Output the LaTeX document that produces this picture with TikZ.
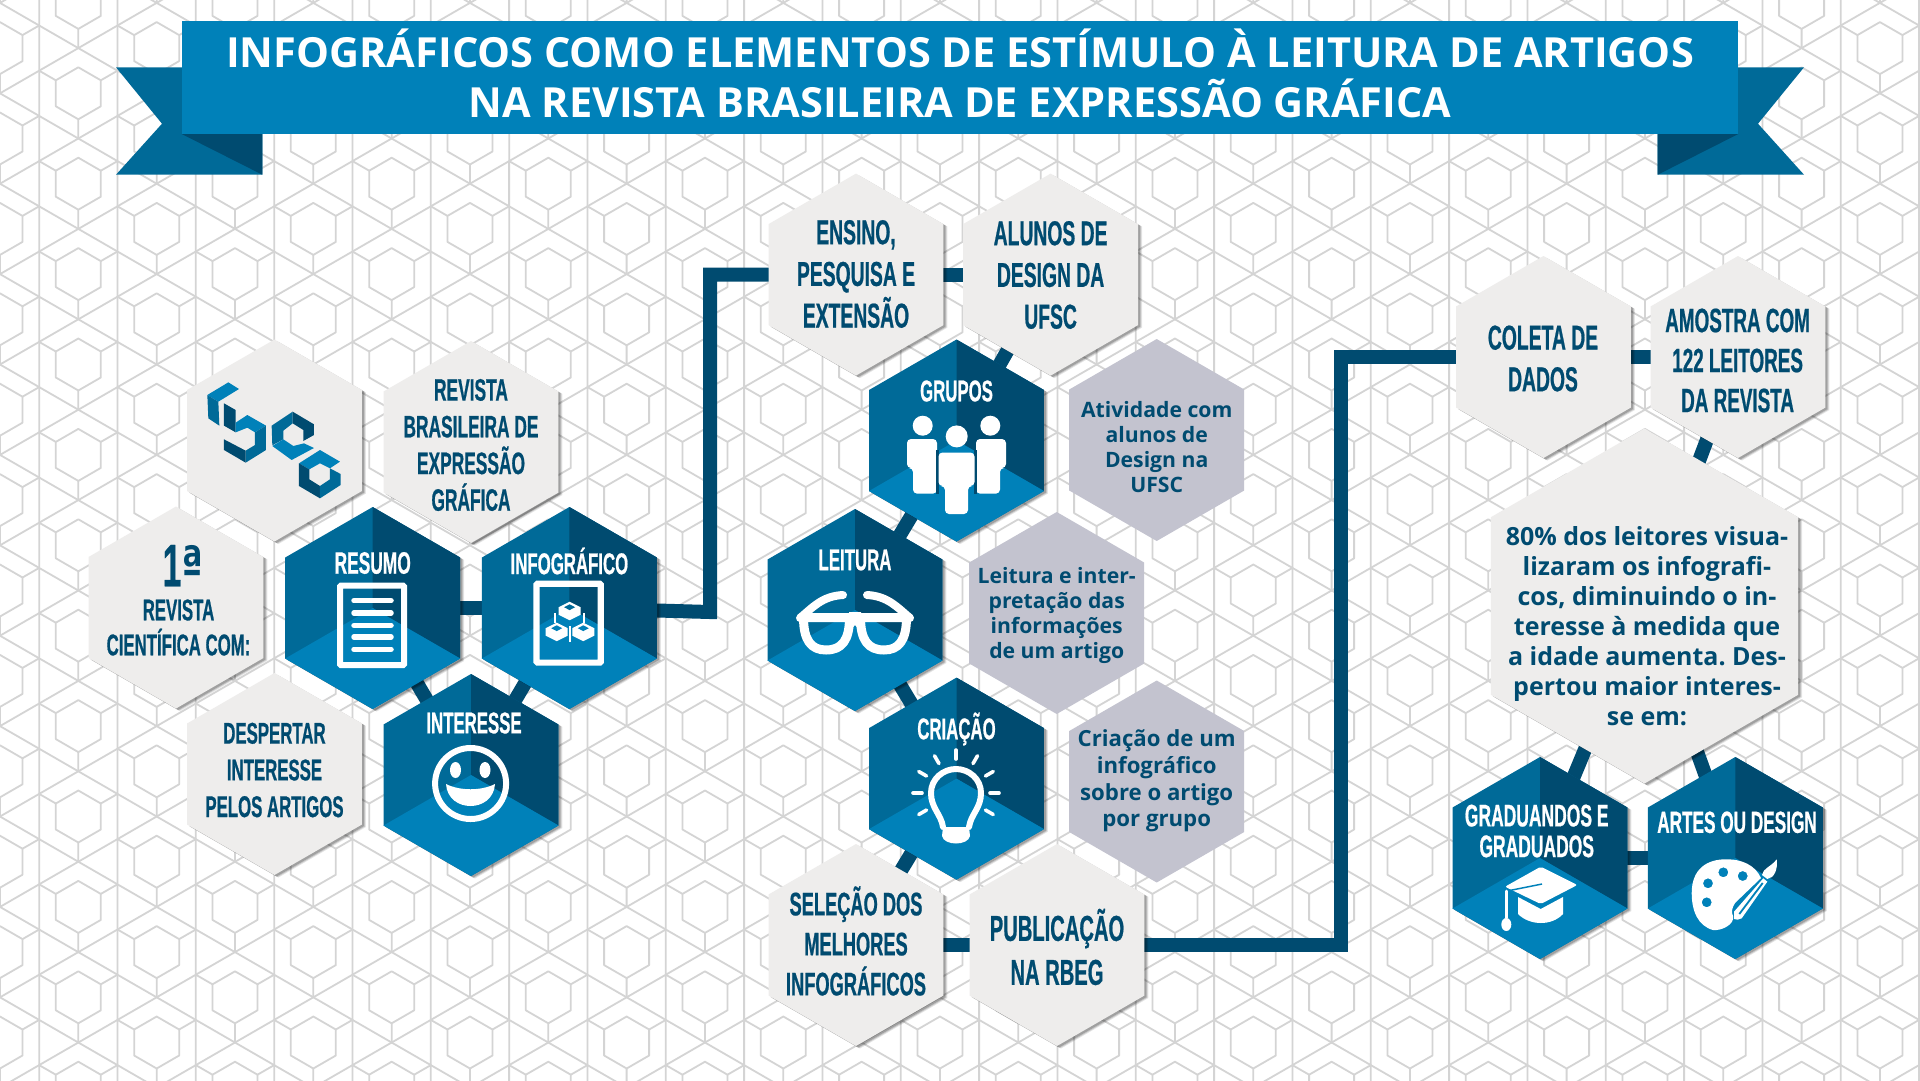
\documentclass[tikz,border=0pt]{standalone}
\usepackage{fontspec}
\setmainfont{Open Sans}
\newfontfamily\bebas[FakeStretch=0.56,FakeBold=0.6]{Liberation Sans}
\newfontfamily\ordfont[FakeStretch=0.72]{DejaVu Sans}
\usetikzlibrary{shapes.geometric,shadows,calc}
\definecolor{cbanner}{HTML}{0081B9}
\definecolor{cmid}{HTML}{006A98}
\definecolor{cdark}{HTML}{004B70}
\definecolor{clight}{HTML}{EEEDEC}
\definecolor{cnote}{HTML}{C3C3CF}
\definecolor{cpat}{HTML}{D4D4D4}
\newcommand\bbf[2]{\bebas\bfseries\fontsize{#1}{#2}\selectfont}
\newcommand\nsf[2]{\frenchspacing\bfseries\fontsize{#1}{#2}\selectfont}
\pgfdeclarelayer{bg}
\pgfsetlayers{bg,main}
\tikzset{
  softshadow/.style={
    general shadow={shadow xshift=4pt,shadow yshift=-2.5pt,fill=black,opacity=.10},
    general shadow={shadow xshift=3pt,shadow yshift=-2pt,fill=black,opacity=.14},
    general shadow={shadow xshift=2pt,shadow yshift=-1.5pt,fill=black,opacity=.18}},
  hexbase/.style={regular polygon,regular polygon sides=6,shape border rotate=30,
    minimum size=202pt,inner sep=0pt,outer sep=0pt,draw=none},
  lighthex/.style={hexbase,softshadow,fill=clight},
  bighex/.style={lighthex,minimum size=355pt},
  notehex/.style={hexbase,fill=cnote},
  darkhex/.style={hexbase,softshadow,fill=cmid,path picture={
    \fill[cdark] (path picture bounding box.center) -- ++(0,-110) -- ++(100,0) -- ++(0,167.7) -- cycle;
    \fill[cbanner] (path picture bounding box.center) -- ++(100,57.7) -- ++(0,80) -- ++(-200,0) -- ++(0,-80) -- cycle;}},
  conn/.style={draw=cdark,line width=14pt,line join=miter},
  patline/.style={draw=cpat,line width=1.8pt,line join=round},
  headtext/.style={inner sep=0pt,align=center,text=cdark,font=\bbf{30}{36.7}},
  whitehead/.style={inner sep=0pt,align=center,text=white,font=\bbf{30}{31}},
  notetext/.style={inner sep=0pt,align=center,text=cdark,font=\nsf{21.2}{25}},
  iconline/.style={draw=white,line cap=round,line join=round},
}
\begin{document}
\begin{tikzpicture}[x=1pt,y=-1pt]
\useasboundingbox (0,0) rectangle (1920,1080);
% ---- ribbon
\fill[cmid] (116,67.3) -- (262.3,67.3) -- (262.3,174.7) -- (116,174.7) -- (162,123.7) -- cycle;
\fill[cdark] (181.7,134) -- (262.3,134) -- (262.3,174.7) -- cycle;
\fill[cmid] (1804,67.3) -- (1657.7,67.3) -- (1657.7,174.7) -- (1804,174.7) -- (1758,123.7) -- cycle;
\fill[cdark] (1738.3,134) -- (1657.7,134) -- (1657.7,174.7) -- cycle;
\node[fill=cbanner,minimum width=1556.6pt,minimum height=113.3pt,inner sep=0pt] (banner) at (960,77.3) {};
\node[inner sep=0pt,align=center,text=white,font=\nsf{41.5}{50.2}] (title) at (960,73)
  {INFOGRÁFICOS COMO ELEMENTOS DE ESTÍMULO À LEITURA DE ARTIGOS\\NA REVISTA BRASILEIRA DE EXPRESSÃO GRÁFICA};
% ---- left group
\node[lighthex] (logo) at (274.5,440.5) {};
\node[lighthex] (revista) at (471,442) {};
\node[lighthex] (primeira) at (176,607.5) {};
\node[darkhex] (resumo) at (372.7,608) {};
\node[darkhex] (infografico) at (569.4,608) {};
\node[lighthex] (despertar) at (274.5,774) {};
\node[darkhex] (interesse) at (471,775) {};
\node[headtext,font=\bbf{31}{36.7}] (trevista) at (471,445) {REVISTA\\BRASILEIRA DE\\EXPRESSÃO\\GRÁFICA};
\node[headtext,font=\bbf{60}{60}] (tum) at (183,565.6) {1{\ordfont\fontsize{54}{54}\selectfont\raisebox{1pt}{ª}}};
\node[headtext,font=\bbf{30}{35}] (tprim) at (178.5,627.5) {REVISTA\\CIENTÍFICA COM:};
\node[headtext] (tdesp) at (274.5,770) {DESPERTAR\\INTERESSE\\PELOS ARTIGOS};
\node[whitehead,font=\bbf{31}{31}] (tresumo) at (372.7,563) {RESUMO};
\node[whitehead] (tinfo) at (569.4,561) {INFOGRÁFICO};
\node[whitehead] (tint) at (474,723) {INTERESSE};
% logo
\begin{scope}[shift={(190,360)},x=0.3333pt,y=-0.3333pt]
\fill[cbanner] (52,105) -- (115,67) -- (147,87) -- (85,125) -- cycle;
\fill[cmid] (52,105) -- (85,125) -- (88,197) -- (55,175) -- cycle;
\fill[cdark] (102,130) -- (137,150) -- (137,217) -- (102,197) -- cycle;
\fill[cbanner] (137,188) -- (172,165) -- (228,197) -- (195,217) -- (172,203) -- (137,217) -- cycle;
\fill[cmid] (228,197) -- (228,270) -- (167,308) -- (167,272) -- (195,255) -- (195,217) -- cycle;
\fill[cdark] (102,238) -- (167,272) -- (167,308) -- (102,270) -- cycle;
\fill[cmid] (245,197) -- (308,155) -- (308,190) -- (280,212) -- (280,238) -- (247,256) -- cycle;
\fill[cdark] (308,155) -- (372,193) -- (372,225) -- (340,243) -- (340,210) -- (308,190) -- cycle;
\fill[cbanner] (247,258) -- (280,238) -- (310,258) -- (342,250) -- (372,264) -- (305,300) -- cycle;
\fill[cbanner] (327,310) -- (390,270) -- (450,305) -- (420,325) -- (390,310) -- (358,328) -- cycle;
\fill[cdark] (327,310) -- (358,328) -- (358,358) -- (390,378) -- (390,415) -- (327,378) -- cycle;
\fill[cmid] (390,378) -- (420,358) -- (420,325) -- (452,342) -- (452,375) -- (390,415) -- cycle;
\end{scope}
% resumo icon
\draw[draw=white,line width=6pt,rounded corners=1pt] (340,585.5) rectangle (404,665);
\foreach \yy in {600.7,613,625.4,637,649.3} \draw[iconline,line width=5.5pt] (354,\yy) -- (391,\yy);
% infografico icon
\draw[draw=white,line width=6.2pt,rounded corners=1pt] (536.5,583.8) rectangle (600.8,662.6);
\foreach \cx/\ct/\cc in {569.6/601.7/cmid,556.7/622.7/cbanner,583.3/622.7/cbanner}{
  \fill[white] (\cx,\ct) -- (\cx+11,\ct+5.5) -- (\cx+11,\ct+13) -- (\cx,\ct+18.5) -- (\cx-11,\ct+13) -- (\cx-11,\ct+5.5) -- cycle;
  \fill[\cc] (\cx,\ct+2.6) -- (\cx+5.5,\ct+5.5) -- (\cx,\ct+8.4) -- (\cx-5.5,\ct+5.5) -- cycle;
}
\draw[draw=white,line width=1.7pt] (555,613) -- (555,623) (584,613) -- (584,623) (570,626) -- (570,641.5);
% smiley
\draw[draw=white,line width=6pt] (470.6,783.5) circle[radius=35.5pt];
\fill[white] (455.5,770) ellipse[x radius=5.5pt,y radius=8pt];
\fill[white] (485,770) ellipse[x radius=5.5pt,y radius=8pt];
\fill[white] (446,784) .. controls (460,791) and (481,791) .. (495,784) .. controls (494,799) and (482,806) .. (470.5,806) .. controls (459,806) and (447,799) .. (446,784) -- cycle;
% ---- centre group
\node[lighthex] (ensino) at (856,274.6) {};
\node[lighthex] (alunos) at (1050.6,274.6) {};
\node[darkhex] (grupos) at (956.5,440.5) {};
\node[notehex] (natividade) at (1156.7,440) {};
\node[darkhex] (leitura) at (855,610) {};
\node[notehex] (nleitura) at (1056.7,613) {};
\node[darkhex] (criacao) at (956.5,778.6) {};
\node[notehex] (ncriacao) at (1156.7,781.5) {};
\node[lighthex] (selecao) at (856,945) {};
\node[lighthex] (publicacao) at (1057,945) {};
\node[headtext,font=\bbf{34.5}{41.7}] (tensino) at (856,274) {ENSINO,\\PESQUISA E\\EXTENSÃO};
\node[headtext,font=\bbf{34.5}{41.7}] (talunos) at (1050.6,275) {ALUNOS DE\\DESIGN DA\\UFSC};
\node[whitehead] (tgrupos) at (956.5,391) {GRUPOS};
\node[whitehead] (tleitura) at (855,560) {LEITURA};
\node[whitehead] (tcriacao) at (956.5,729) {CRIAÇÃO};
\node[notetext] (tnat) at (1156.7,447) {Atividade com\\alunos de\\Design na\\UFSC};
\node[notetext] (tnle) at (1056.7,615.5) {Leitura e inter-\\pretação das\\informações\\de um artigo};
\node[notetext,font=\nsf{22.2}{26.6}] (tncr) at (1156.7,781) {Criação de um\\infográfico\\sobre o artigo\\por grupo};
\node[headtext,font=\bbf{32.6}{40}] (tsel) at (856,941) {SELEÇÃO DOS\\MELHORES\\INFOGRÁFICOS};
\node[headtext,font=\bbf{36}{44}] (tpub) at (1057,947) {PUBLICAÇÃO\\NA RBEG};
% grupos icon
\fill[white] (922.7,425.7) circle[radius=10pt] (990.3,425.7) circle[radius=10pt] (956.7,436.4) circle[radius=11pt];
\fill[white,rounded corners=4pt] (907,439) -- (937,439) -- (937,493.6) -- (913,493.6) -- (913,468) -- (907,468) -- cycle;
\fill[white,rounded corners=4pt] (1006,439) -- (976,439) -- (976,493.6) -- (1000,493.6) -- (1000,468) -- (1006,468) -- cycle;
\fill[cdark] (936,450) rectangle (939,494);
\fill[cdark] (974,450) rectangle (977,494);
\fill[white,rounded corners=4pt] (938.5,452.5) -- (974.5,452.5) -- (974.5,486) -- (968,486) -- (968,514) -- (945,514) -- (945,486) -- (938.5,486) -- cycle;
% glasses icon
\begin{scope}[iconline]
\draw[line width=9pt] (803.5,617.5) -- (849.5,617.5) .. controls (849.5,640) and (842,650) .. (826,650) .. controls (811,650) and (803.5,640) .. (803.5,617.5) -- cycle;
\draw[line width=9pt] (906.5,617.5) -- (860.5,617.5) .. controls (860.5,640) and (868,650) .. (884,650) .. controls (899,650) and (906.5,640) .. (906.5,617.5) -- cycle;
\draw[line width=8pt] (801,617) -- (909,617);
\draw[line width=8pt] (800,618) .. controls (812,608) and (822,596) .. (843,595);
\draw[line width=8pt] (910,618) .. controls (898,608) and (888,596) .. (867,595);
\end{scope}
\fill[white] (849,612) -- (861,612) -- (861,632) -- (855,625) -- (849,632) -- cycle;
% bulb icon
\draw[iconline,line width=6pt] (943,827) .. controls (941,814) and (931,808) .. (931,793) .. controls (931,779) and (943,769) .. (956,769) .. controls (969,769) and (981,779) .. (981,793) .. controls (981,808) and (971,814) .. (969,827);
\fill[white] (943,827) -- (969,827) -- (970,836) .. controls (968,846) and (944,846) .. (942,836) -- cycle;
\foreach \a in {-90,-60,-120,-30,-150,0,180,30,150}
  \draw[iconline,line width=3.6pt] ([shift={(\a:34)}]956,793) -- ([shift={(\a:43)}]956,793);
% ---- right group
\node[lighthex] (coleta) at (1543.5,357) {};
\node[lighthex] (amostra) at (1738,357) {};
\node[bighex] (oitenta) at (1644.5,606) {};
\node[darkhex] (graduandos) at (1540,858) {};
\node[darkhex] (artes) at (1735.3,858) {};
\node[headtext,font=\bbf{34.5}{41.6}] (tcol) at (1543,358.5) {COLETA DE\\DADOS};
\node[headtext,font=\bbf{33.7}{40}] (tamo) at (1737.6,360.5) {AMOSTRA COM\\122 LEITORES\\DA REVISTA};
\node[notetext,font=\nsf{25}{30}] (toit) at (1647,626) {80\% dos leitores visua-\\lizaram os infografi-\\cos, diminuindo o in-\\teresse à medida que\\a idade aumenta. Des-\\pertou maior interes-\\se em:};
\node[whitehead,font=\bbf{31.2}{30.7}] (tgra) at (1536.7,831) {GRADUANDOS E\\GRADUADOS};
\node[whitehead,font=\bbf{30.7}{31}] (tart) at (1737,822.3) {ARTES OU DESIGN};
% cap icon
\fill[white] (1518,897) -- (1540.7,909) -- (1563,897) -- (1563,914) .. controls (1552,926) and (1530,926) .. (1518,914) -- cycle;
\fill[white,rounded corners=2pt] (1540.7,866.7) -- (1577.3,885) -- (1540.7,904) -- (1505,886.7) -- cycle;
\draw[draw=cbanner,line width=1.5pt] (1507,891) -- (1542,884);
\draw[iconline,line width=2.6pt] (1506.5,891) -- (1506.5,918);
\fill[white] (1506.3,924.5) ellipse[x radius=5pt,y radius=6.5pt];
% palette icon
\fill[white,even odd rule] (1691.7,893) .. controls (1691.7,868) and (1708,859.5) .. (1725,859.3) .. controls (1742,859) and (1755,865) .. (1761,878) -- (1735,903) .. controls (1732,908) and (1731,912) .. (1733,916) .. controls (1735,924) and (1722,931) .. (1713,930) .. controls (1698,926) and (1691.7,911) .. (1691.7,893) -- cycle
  (1723.3,872.3) circle[radius=5pt] (1742.7,876) circle[radius=5pt] (1708,883.3) circle[radius=5pt] (1706.7,902.3) circle[radius=5pt];
\fill[white] (1763.3,878.3) -- (1767.3,881.7) -- (1741.7,918.3) .. controls (1739,920) and (1736,920) .. (1734,919) -- (1734,911.7) -- cycle;
\draw[draw=cbanner,line width=1.8pt] (1762.7,883) -- (1739.3,914);
\fill[white] (1776.7,859.3) .. controls (1778,870) and (1774,878) .. (1767.3,879) -- (1762,875) .. controls (1763,868) and (1771,867) .. (1776.7,859.3) -- cycle;
% ---- pattern and connectors, under the hexagons
\begin{pgfonlayer}{bg}
\fill[white] (0,0) rectangle (1920,1080);
\begin{scope}
\clip (0,0) rectangle (1920,1080);
\foreach \col in {0,...,25}{
  \pgfmathsetmacro\px{78.33*\col}
  \pgfmathsetmacro\py{isodd(\col) ? 2.9 : 48.1}
  \foreach \row in {-1,...,12}{
    \pgfmathsetmacro\qy{\py+90.4*\row}
    \draw[patline] (\px,\qy-26) -- (\px+22.5,\qy-13) -- (\px+22.5,\qy+13) -- (\px,\qy+26) -- (\px-22.5,\qy+13) -- (\px-22.5,\qy-13) -- cycle;
    \draw[patline] (\px,\qy-45.2) -- (\px+39.17,\qy-22.6) -- (\px+39.17,\qy+22.6) -- (\px,\qy+45.2) -- (\px-39.17,\qy+22.6) -- (\px-39.17,\qy-22.6) -- cycle;
    \draw[patline] (\px,\qy+26) -- (\px,\qy+45.2) (\px+22.5,\qy-13) -- (\px+39.17,\qy-22.6) (\px-22.5,\qy-13) -- (\px-39.17,\qy-22.6);
  }
}
\end{scope}
\draw[conn] (resumo.center) -- (infografico.center);
\draw[conn] (resumo.center) -- (interesse.center);
\draw[conn] (infografico.center) -- (interesse.center);
\coordinate (via1) at (710,612);
\coordinate (via2) at (1341,945);
\draw[conn] (infografico.center) -- (via1) -- (via1 |- ensino.center) -- (ensino.center);
\draw[conn] (ensino.center) -- (alunos.center);
\draw[conn] (alunos.center) -- (grupos.center);
\draw[conn] (grupos.center) -- (leitura.center);
\draw[conn] (leitura.center) -- (criacao.center);
\draw[conn] (criacao.center) -- (selecao.center);
\draw[conn] (selecao.center) -- (publicacao.center);
\draw[conn] (publicacao.center) -- (via2) -- (via2 |- coleta.center) -- (coleta.center);
\draw[conn] (coleta.center) -- (amostra.center);
\draw[conn] (amostra.center) -- (oitenta.center);
\draw[conn] (oitenta.center) -- (graduandos.center);
\draw[conn] (oitenta.center) -- (artes.center);
\draw[conn] (graduandos.center) -- (artes.center);
\end{pgfonlayer}
\end{tikzpicture}
\end{document}
